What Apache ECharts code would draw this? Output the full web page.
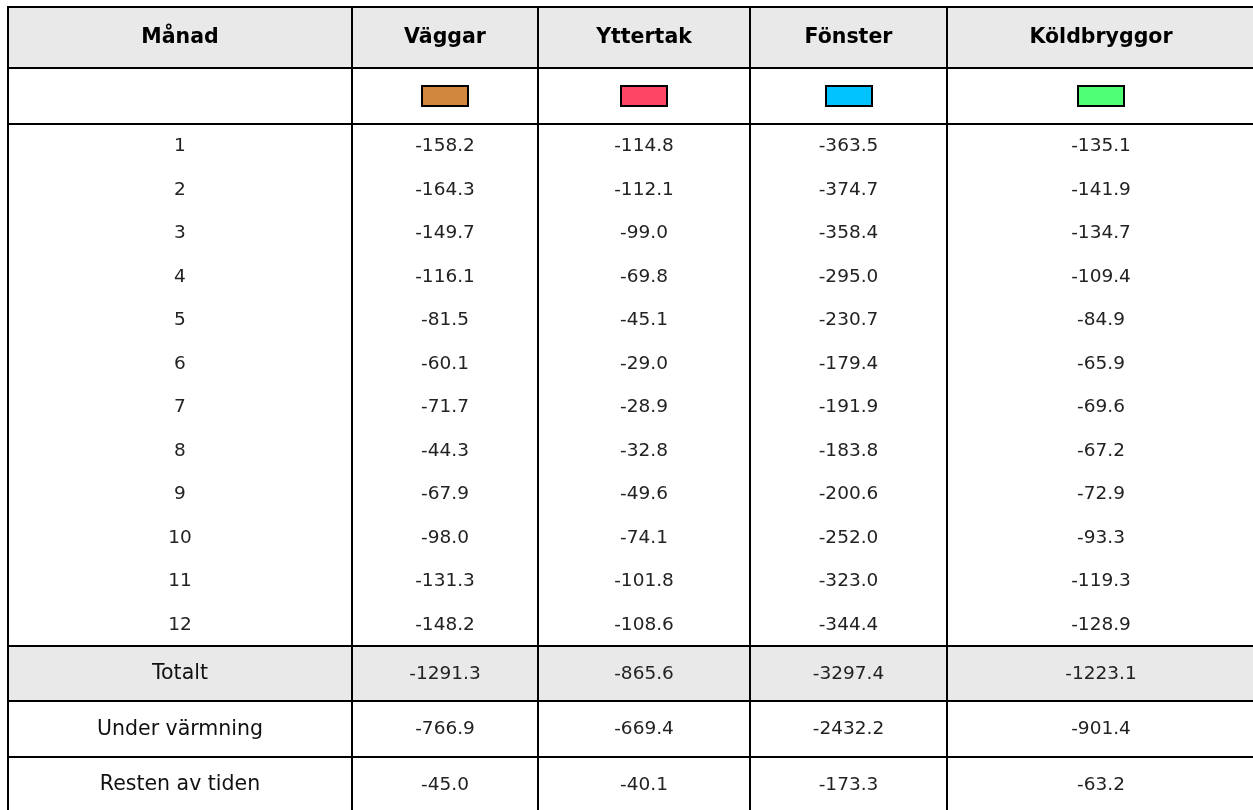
<!DOCTYPE html>
<html>
<head>
<meta charset="utf-8">
<script src="https://cdn.jsdelivr.net/npm/echarts@6/dist/echarts.min.js"></script>
<style>
  html, body { margin: 0; padding: 0; background: #fff; }
  #main { width: 1253px; height: 810px; }
</style>
</head>
<body>
<div id="main"></div>
<script>
// tabellens innehåll
const columns = ['Månad', 'Väggar', 'Yttertak', 'Fönster', 'Köldbryggor']
const months = ['1', '2', '3', '4', '5', '6', '7', '8', '9', '10', '11', '12']
const vaggar = [-158.2, -164.3, -149.7, -116.1, -81.5, -60.1, -71.7, -44.3, -67.9, -98.0, -131.3, -148.2]
const yttertak = [-114.8, -112.1, -99.0, -69.8, -45.1, -29.0, -28.9, -32.8, -49.6, -74.1, -101.8, -108.6]
const fonster = [-363.5, -374.7, -358.4, -295.0, -230.7, -179.4, -191.9, -183.8, -200.6, -252.0, -323.0, -344.4]
const koldbryggor = [-135.1, -141.9, -134.7, -109.4, -84.9, -65.9, -69.6, -67.2, -72.9, -93.3, -119.3, -128.9]
const summaryLabels = ['Totalt', 'Under värmning', 'Resten av tiden']
const vaggarSummary = [-1291.3, -766.9, -45.0]
const yttertakSummary = [-865.6, -669.4, -40.1]
const fonsterSummary = [-3297.4, -2432.2, -173.3]
const koldbryggorSummary = [-1223.1, -901.4, -63.2]
const swatchColors = ['#d2873e', '#ff4565', '#00c3ff', '#4eff75']

// layout (pixel units on hidden value axes)
const colEdges = [8, 352, 538, 750, 947, 1255]
const rowHeights = [61, 56].concat(months.map(() => 43.5), [55, 56, 55])
const rowEdges = [7]
rowHeights.forEach((h) => rowEdges.push(rowEdges[rowEdges.length - 1] + h))
const hLines = [0, 1, 2, 2 + months.length, 3 + months.length, 4 + months.length, 5 + months.length]
const FONT = '"DejaVu Sans", Verdana, sans-serif'

const seriesValues = [vaggar, yttertak, fonster, koldbryggor]
const seriesSummary = [vaggarSummary, yttertakSummary, fonsterSummary, koldbryggorSummary]

const cells = []
columns.forEach((name, c) => cells.push({ col: c, row: 0, kind: 'head', text: name }))
columns.forEach((name, c) => cells.push({ col: c, row: 1, kind: c ? 'swatch' : 'blank', color: swatchColors[c - 1] }))
months.forEach((m, i) => {
  cells.push({ col: 0, row: 2 + i, kind: 'num', text: m })
  seriesValues.forEach((vals, s) => cells.push({ col: s + 1, row: 2 + i, kind: 'num', text: vals[i].toFixed(1) }))
})
summaryLabels.forEach((label, i) => {
  const row = 2 + months.length + i
  cells.push({ col: 0, row, kind: 'sumLabel', text: label, grey: i === 0 })
  seriesSummary.forEach((vals, s) => cells.push({ col: s + 1, row, kind: 'num', text: vals[i].toFixed(1), grey: i === 0 }))
})

const renderCell = (params, api) => {
  const c = cells[params.dataIndex]
  const p0 = api.coord([colEdges[c.col], rowEdges[c.row]])
  const p1 = api.coord([colEdges[c.col + 1], rowEdges[c.row + 1]])
  const cx = (p0[0] + p1[0]) / 2
  const cy = (p0[1] + p1[1]) / 2
  const children = []
  if (c.kind === 'head' || c.grey) {
    children.push({
      type: 'rect',
      shape: { x: p0[0], y: p0[1], width: p1[0] - p0[0], height: p1[1] - p0[1] },
      style: { fill: '#e9e9e9' }
    })
  }
  if (c.kind === 'swatch') {
    children.push({
      type: 'rect',
      shape: { x: Math.round(cx - 23), y: cy - 10, width: 46, height: 20 },
      style: { fill: c.color, stroke: '#000', lineWidth: 2 }
    })
  } else if (c.text !== undefined) {
    let font = '18.5px ' + FONT
    let color = '#222'
    if (c.kind === 'head') { font = 'bold 20.5px ' + FONT; color = '#000' }
    if (c.kind === 'sumLabel') { font = '20.5px ' + FONT; color = '#111' }
    children.push({
      type: 'text',
      style: { text: c.text, x: cx, y: cy + 0.5, align: 'center', verticalAlign: 'middle', font, fill: color }
    })
  }
  return { type: 'group', children }
}

const lineItems = hLines.map((r) => ['h', r]).concat(colEdges.map((x, i) => ['v', i]))
const renderLine = (params, api) => {
  const [dir, idx] = lineItems[params.dataIndex]
  let a, b
  if (dir === 'h') {
    a = api.coord([colEdges[0] - 1, rowEdges[idx]])
    b = api.coord([colEdges[colEdges.length - 1] + 1, rowEdges[idx]])
  } else {
    a = api.coord([colEdges[idx], rowEdges[0] - 1])
    b = api.coord([colEdges[idx], rowEdges[rowEdges.length - 1] + 1])
  }
  return {
    type: 'line',
    shape: { x1: a[0], y1: a[1], x2: b[0], y2: b[1] },
    style: { stroke: '#000', lineWidth: 2 }
  }
}

const myChart = echarts.init(document.getElementById('main'))
myChart.setOption({
  animation: false,
  grid: { left: 0, right: 0, top: 0, bottom: 0 },
  xAxis: { type: 'value', min: 0, max: 1253, show: false },
  yAxis: { type: 'value', min: 0, max: 810, inverse: true, show: false },
  series: [
    {
      type: 'custom',
      clip: false,
      renderItem: renderCell,
      data: cells.map((c) => [c.col, c.row]),
      z: 1
    },
    {
      type: 'custom',
      clip: false,
      renderItem: renderLine,
      data: lineItems.map((l, i) => [i, 0]),
      z: 2
    }
  ]
})
</script>
</body>
</html>
